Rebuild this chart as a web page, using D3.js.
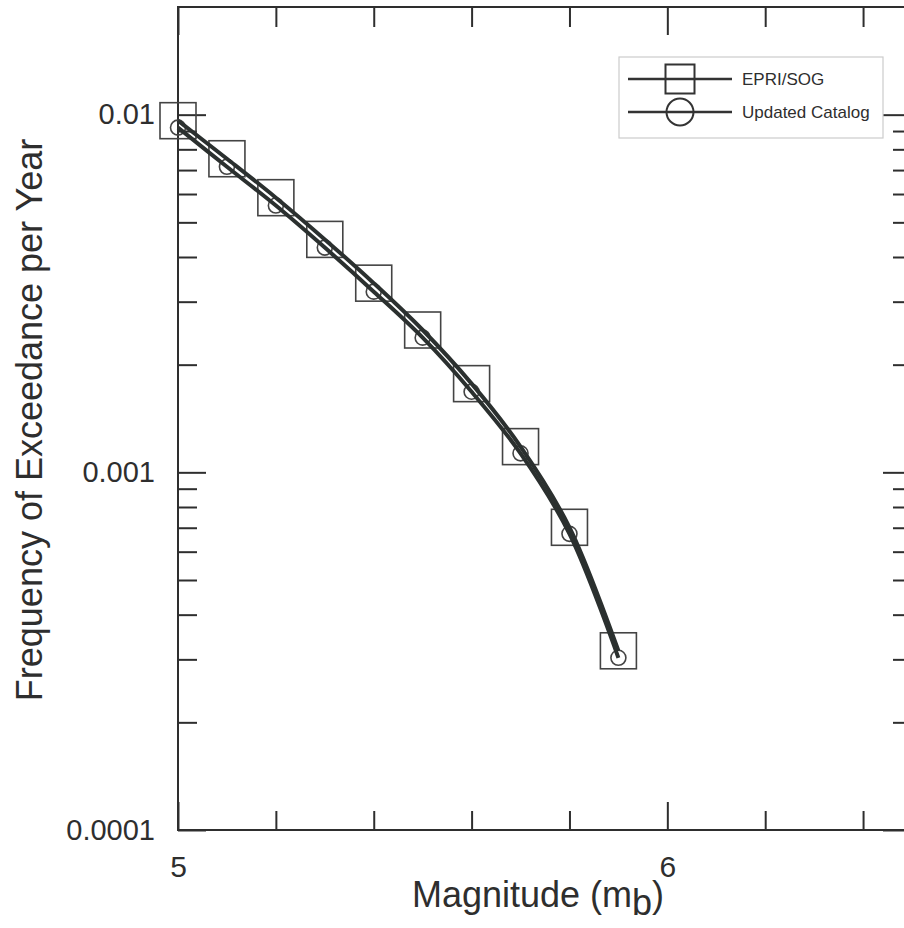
<!DOCTYPE html>
<html>
<head>
<meta charset="utf-8">
<script src="https://cdnjs.cloudflare.com/ajax/libs/d3/7.8.5/d3.min.js"></script>
<style>
  body { margin: 0; background: #fff; }
  svg { display: block; font-family: "Liberation Sans", Arial, sans-serif; }
</style>
</head>
<body>
<div id="chart"></div>
<script>
// data
var magnitudes = [5.0, 5.1, 5.2, 5.3, 5.4, 5.5, 5.6, 5.7, 5.8, 5.9];
var epriSog = [0.00962, 0.00753, 0.00586, 0.00448, 0.00338, 0.00250, 0.00177, 0.00118, 0.000702, 0.000317];
var updatedCatalog = [0.00920, 0.00715, 0.00557, 0.00425, 0.00320, 0.00238, 0.00168, 0.00113, 0.000673, 0.000303];
var seriesNames = ["EPRI/SOG", "Updated Catalog"];
var xMajorTicks = [5, 6];
var xMinorTicks = [5.2, 5.4, 5.6, 5.8, 6.2, 6.4];
var yMajorTicks = [0.0001, 0.001, 0.01];
var yTickLabels = ["0.0001", "0.001", "0.01"];

var W = 904, H = 928;
var margin = {top: 7, right: 904 - 912, bottom: 928 - 830, left: 178};
var ink = "#2e2e2e";

var svg = d3.select("#chart").append("svg")
    .attr("width", W)
    .attr("height", H);

// scales
var x = d3.scaleLinear().domain([5, 6.5]).range([margin.left, W - margin.right]);
var y = d3.scaleLog().domain([0.0001, 0.02]).range([H - margin.bottom, margin.top]);

// minor log ticks 2..9 in each decade
var yMinorTicks = [];
[0.0001, 0.001, 0.01].forEach(function(d) {
  for (var k = 2; k <= 9; k++) {
    var v = d * k;
    if (v < 0.02) yMinorTicks.push(v);
  }
});

function styleAxis(g) {
  g.select(".domain").remove();
  g.selectAll(".tick line").attr("stroke", ink).attr("stroke-width", 2);
  g.attr("font-family", "Liberation Sans, Arial, sans-serif")
   .attr("font-size", 29)
   .selectAll("text").attr("fill", ink);
}

var x0 = margin.left, x1 = W - margin.right, y0 = H - margin.bottom, y1 = margin.top;

// bottom axis
svg.append("g").attr("transform", "translate(0," + y0 + ")")
  .call(d3.axisBottom(x).tickValues(xMajorTicks).tickSizeInner(-28).tickSizeOuter(0)
        .tickPadding(26).tickFormat(d3.format("d")))
  .call(styleAxis)
  .attr("font-size", 30);
svg.append("g").attr("transform", "translate(0," + y0 + ")")
  .call(d3.axisBottom(x).tickValues(xMinorTicks).tickSizeInner(-19).tickSizeOuter(0).tickFormat(""))
  .call(styleAxis);

// top axis
svg.append("g").attr("transform", "translate(0," + y1 + ")")
  .call(d3.axisTop(x).tickValues(xMajorTicks).tickSizeInner(-28).tickSizeOuter(0).tickFormat(""))
  .call(styleAxis);
svg.append("g").attr("transform", "translate(0," + y1 + ")")
  .call(d3.axisTop(x).tickValues(xMinorTicks).tickSizeInner(-20).tickSizeOuter(0).tickFormat(""))
  .call(styleAxis);

// left axis
svg.append("g").attr("transform", "translate(" + x0 + ",0)")
  .call(d3.axisLeft(y).tickValues(yMajorTicks).tickSizeInner(-28).tickSizeOuter(0)
        .tickPadding(23).tickFormat(function(d, i) { return yTickLabels[i]; }))
  .call(styleAxis);
svg.append("g").attr("transform", "translate(" + x0 + ",0)")
  .call(d3.axisLeft(y).tickValues(yMinorTicks).tickSizeInner(-19).tickSizeOuter(0).tickFormat(""))
  .call(styleAxis);

// right axis
svg.append("g").attr("transform", "translate(" + x1 + ",0)")
  .call(d3.axisRight(y).tickValues(yMajorTicks).tickSizeInner(-29).tickSizeOuter(0).tickFormat(""))
  .call(styleAxis);
svg.append("g").attr("transform", "translate(" + x1 + ",0)")
  .call(d3.axisRight(y).tickValues(yMinorTicks).tickSizeInner(-19).tickSizeOuter(0).tickFormat(""))
  .call(styleAxis);

// frame
svg.append("rect")
    .attr("x", x0).attr("y", y1)
    .attr("width", x1 - x0).attr("height", y0 - y1)
    .attr("fill", "none").attr("stroke", ink).attr("stroke-width", 2);

// markers (drawn under the curves)
var pts = magnitudes.map(function(m, i) { return {m: m, a: epriSog[i], b: updatedCatalog[i]}; });
var sq = 36;

svg.selectAll(".sq").data(pts).enter().append("rect")
    .attr("class", "sq")
    .attr("x", function(d) { return x(d.m) - sq / 2; })
    .attr("y", function(d) { return y(d.a) - sq / 2; })
    .attr("width", sq).attr("height", sq)
    .attr("fill", "none").attr("stroke", "#444").attr("stroke-width", 1.6);

svg.selectAll(".circ").data(pts).enter().append("circle")
    .attr("class", "circ")
    .attr("cx", function(d) { return x(d.m); })
    .attr("cy", function(d) { return y(d.b); })
    .attr("r", 7.5)
    .attr("fill", "none").attr("stroke", "#444").attr("stroke-width", 1.6);

// curves
var lineA = d3.line().x(function(d) { return x(d.m); }).y(function(d) { return y(d.a); }).curve(d3.curveCatmullRom.alpha(0.5));
var lineB = d3.line().x(function(d) { return x(d.m); }).y(function(d) { return y(d.b); }).curve(d3.curveCatmullRom.alpha(0.5));

svg.append("path").datum(pts).attr("d", lineA)
    .attr("fill", "none").attr("stroke", "#2b302f").attr("stroke-width", 4);
svg.append("path").datum(pts).attr("d", lineB)
    .attr("fill", "none").attr("stroke", "#2b302f").attr("stroke-width", 4);

// legend
var lg = svg.append("g").attr("transform", "translate(619,57)");
lg.append("rect").attr("width", 264).attr("height", 81)
    .attr("fill", "#fff").attr("stroke", "#ccc").attr("stroke-width", 1.2);
seriesNames.forEach(function(name, i) {
  var ly = 22 + i * 33;
  lg.append("line").attr("x1", 9).attr("x2", 113).attr("y1", ly).attr("y2", ly)
      .attr("stroke", "#333").attr("stroke-width", 2.5);
  if (i === 0) {
    lg.append("rect").attr("x", 61 - 14.5).attr("y", ly - 14.5).attr("width", 29).attr("height", 29)
        .attr("fill", "none").attr("stroke", "#333").attr("stroke-width", 2);
  } else {
    lg.append("circle").attr("cx", 61).attr("cy", ly).attr("r", 13.5)
        .attr("fill", "none").attr("stroke", "#333").attr("stroke-width", 2);
  }
  lg.append("text").attr("x", 123).attr("y", ly).attr("dy", "0.35em")
      .attr("font-size", 17).attr("fill", ink).text(name);
});

// axis titles
var xt = svg.append("text")
    .attr("x", 538).attr("y", 907)
    .attr("text-anchor", "middle")
    .attr("font-size", 36).attr("fill", ink);
xt.append("tspan").text("Magnitude (m");
xt.append("tspan").attr("dy", 8).text("b");
xt.append("tspan").attr("dy", -8).text(")");

svg.append("text")
    .attr("transform", "translate(42,420) rotate(-90)")
    .attr("text-anchor", "middle")
    .attr("font-size", 36).attr("fill", ink)
    .text("Frequency of Exceedance per Year");
</script>
</body>
</html>
